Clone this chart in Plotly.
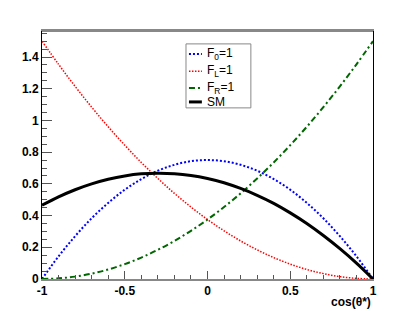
import plotly.graph_objects as go

# cos(theta*) sample points
cos_theta = [-1.0, -0.9, -0.8, -0.7, -0.6, -0.5, -0.4, -0.3, -0.2, -0.1, 0.0,
             0.1, 0.2, 0.3, 0.4, 0.5, 0.6, 0.7, 0.8, 0.9, 1.0]

# values
f0_vals = [0.0, 0.143, 0.27, 0.383, 0.48, 0.563, 0.63, 0.683, 0.72, 0.743, 0.75,
           0.743, 0.72, 0.683, 0.63, 0.563, 0.48, 0.383, 0.27, 0.143, 0.0]
fl_vals = [1.5, 1.354, 1.215, 1.084, 0.96, 0.844, 0.735, 0.634, 0.54, 0.454, 0.375,
           0.304, 0.24, 0.184, 0.135, 0.094, 0.06, 0.034, 0.015, 0.004, 0.0]
fr_vals = [0.0, 0.004, 0.015, 0.034, 0.06, 0.094, 0.135, 0.184, 0.24, 0.304, 0.375,
           0.454, 0.54, 0.634, 0.735, 0.844, 0.96, 1.084, 1.215, 1.354, 1.5]
sm_vals = [0.465, 0.518, 0.563, 0.600, 0.629, 0.650, 0.663, 0.667, 0.664, 0.653, 0.634,
           0.607, 0.571, 0.528, 0.477, 0.417, 0.350, 0.274, 0.191, 0.100, 0.0]

legend_labels = ["F<sub>0</sub>=1", "F<sub>L</sub>=1", "F<sub>R</sub>=1", "SM"]
x_tick_vals = [-1, -0.5, 0, 0.5, 1]
x_tick_text = ["-1", "-0.5", "0", "0.5", "1"]
y_tick_vals = [0, 0.2, 0.4, 0.6, 0.8, 1, 1.2, 1.4]
y_tick_text = ["0", "0.2", "0.4", "0.6", "0.8", "1", "1.2", "1.4"]

styles = [
    dict(color="#0000ff", width=2, dash="2px,2px"),
    dict(color="#ff0000", width=1.5, dash="1.5px,1.5px"),
    dict(color="#006600", width=2, dash="6px,3px,2px,3px"),
    dict(color="#000000", width=3, dash="solid"),
]
series = [f0_vals, fl_vals, fr_vals, sm_vals]

fig = go.Figure()
for vals, st in zip(series, styles):
    fig.add_trace(go.Scatter(x=cos_theta, y=vals, mode="lines", line_shape="spline",
                             line=st, showlegend=False, hoverinfo="skip"))

tick_font = dict(family="Liberation Sans", size=12, color="black")

fig.update_layout(
    width=415, height=311,
    margin=dict(l=42, r=42, t=31, b=32),
    paper_bgcolor="white", plot_bgcolor="white",
    font=dict(family="Liberation Sans", size=12, color="black"),
    xaxis=dict(range=[-1, 1], tickmode="array", tickvals=x_tick_vals,
               ticktext=["<b>%s</b>" % t for t in x_tick_text],
               ticks="inside", ticklen=8, tickcolor="#555", tickwidth=1,
               minor=dict(ticks="inside", ticklen=4, dtick=0.1, tickcolor="#555", showgrid=False),
               showgrid=False, zeroline=False, showline=True, linecolor="#888", linewidth=2,
               mirror=True, tickfont=tick_font, ticklabelstandoff=0),
    yaxis=dict(range=[0, 1.564], tickmode="array", tickvals=y_tick_vals,
               ticktext=["<b>%s</b>" % t for t in y_tick_text],
               ticks="inside", ticklen=10, tickcolor="#555", tickwidth=1,
               minor=dict(ticks="inside", ticklen=5, dtick=0.05, tickcolor="#555", showgrid=False),
               showgrid=False, zeroline=False, showline=True, linecolor="black", linewidth=1,
               mirror=True, tickfont=tick_font),
)

# top frame line (gray) to mimic reference frame
fig.add_shape(type="line", xref="paper", yref="paper", x0=0, x1=1, y0=1, y1=1,
              line=dict(color="#888", width=2), layer="above")

# axis title
fig.add_annotation(text="<b>cos(θ*)</b>", xref="paper", yref="paper", x=1.0, y=-0.055,
                   xanchor="right", yanchor="top", showarrow=False,
                   font=dict(family="Liberation Sans", size=12, color="black"))

# legend box
fig.add_shape(type="rect", xref="paper", yref="paper", x0=0.435, x1=0.631, y0=0.690, y1=0.948,
              line=dict(color="#888", width=1), fillcolor="white", layer="above")
leg_y = [0.907, 0.838, 0.770, 0.714]
for lab, st, yy in zip(legend_labels, styles, leg_y):
    fig.add_shape(type="line", xref="paper", yref="paper", x0=0.444, x1=0.483, y0=yy, y1=yy,
                  line=st, layer="above")
    fig.add_annotation(text=lab, xref="paper", yref="paper", x=0.492, y=yy,
                       xanchor="left", yanchor="middle", showarrow=False,
                       font=dict(family="Liberation Sans", size=12, color="black"))

fig.write_html("out.html", config={"displayModeBar": False},
               post_script="document.body.style.margin='0';document.body.style.overflow='hidden';")
